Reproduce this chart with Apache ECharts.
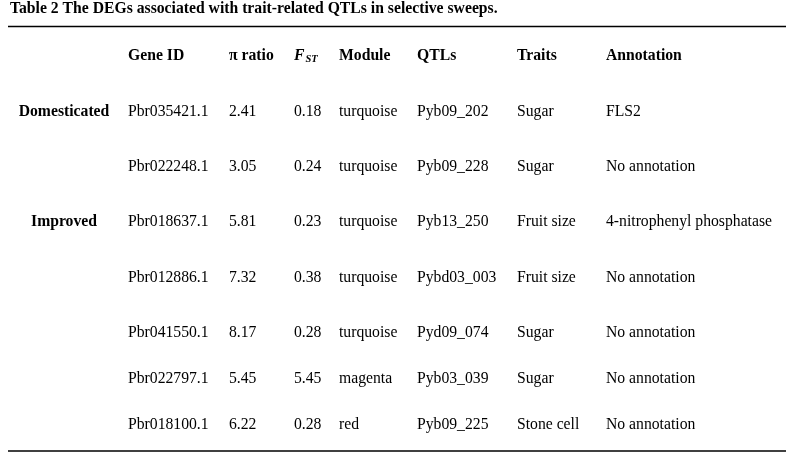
<!DOCTYPE html>
<html>
<head>
<meta charset="utf-8">
<script src="https://cdn.jsdelivr.net/npm/echarts@6/dist/echarts.min.js"></script>
<style>
  html, body { margin: 0; padding: 0; background: #fff; }
  #chart { width: 794px; height: 464px; }
</style>
</head>
<body>
<div id="chart"></div>
<script>
// table content
const title = 'Table 2 The DEGs associated with trait-related QTLs in selective sweeps.';
const headers = ['', 'Gene ID', 'π ratio', 'FST', 'Module', 'QTLs', 'Traits', 'Annotation'];
const groups = ['Domesticated', '', 'Improved', '', '', '', ''];
const geneIds = ['Pbr035421.1', 'Pbr022248.1', 'Pbr018637.1', 'Pbr012886.1', 'Pbr041550.1', 'Pbr022797.1', 'Pbr018100.1'];
const piRatio = [2.41, 3.05, 5.81, 7.32, 8.17, 5.45, 6.22];
const fst = [0.18, 0.24, 0.23, 0.38, 0.28, 5.45, 0.28];
const modules = ['turquoise', 'turquoise', 'turquoise', 'turquoise', 'turquoise', 'magenta', 'red'];
const qtls = ['Pyb09_202', 'Pyb09_228', 'Pyb13_250', 'Pybd03_003', 'Pyd09_074', 'Pyb03_039', 'Pyb09_225'];
const traits = ['Sugar', 'Sugar', 'Fruit size', 'Fruit size', 'Sugar', 'Sugar', 'Stone cell'];
const annotations = ['FLS2', 'No annotation', '4-nitrophenyl phosphatase', 'No annotation',
  'No annotation', 'No annotation', 'No annotation'];

// layout (pixel scale of the hidden axes)
const W = 794, H = 464;
const colX = [64, 128, 229, 294, 339, 417, 517, 606];
const headerY = 55.5;
const rowY = [111.5, 166.8, 222.2, 278, 333, 378.8, 425];
const FONT = '"Liberation Serif", "Times New Roman", serif';
const FS = 15.7;

const columns = [
  groups,
  geneIds,
  piRatio.map(v => v.toFixed(2)),
  fst.map(v => v.toFixed(2)),
  modules,
  qtls,
  traits,
  annotations
];

let cells = [];
headers.forEach((h, c) => {
  if (h) cells.push([colX[c], headerY, h, 'head', c]);
});
columns.forEach((col, c) => {
  col.forEach((t, r) => {
    if (t) cells.push([colX[c], rowY[r], t, c === 0 ? 'group' : 'body', c]);
  });
});

function renderCell(params, api) {
  const pt = api.coord([api.value(0), api.value(1)]);
  const text = cells[params.dataIndex][2];
  const kind = cells[params.dataIndex][3];
  const col = cells[params.dataIndex][4];
  const style = {
    text: text,
    fill: '#000',
    fontFamily: FONT,
    fontSize: FS,
    fontWeight: kind === 'body' ? 'normal' : 'bold',
    align: kind === 'group' ? 'center' : 'left',
    verticalAlign: 'middle'
  };
  if (kind === 'head' && col === 3) {
    style.text = '{f|F}{s|ST}';
    style.rich = {
      f: { fontFamily: FONT, fontSize: FS, fontStyle: 'italic', fontWeight: 'bold', fill: '#000', lineHeight: 18 },
      s: { fontFamily: FONT, fontSize: 10.5, fontStyle: 'italic', fontWeight: 'bold', fill: '#000',
        lineHeight: 10, verticalAlign: 'bottom', padding: [0, 0, 0, 1] }
    };
  }
  return { type: 'text', x: pt[0], y: pt[1], style: style };
}

const chart = echarts.init(document.getElementById('chart'), null, { renderer: 'canvas' });
chart.setOption({
  backgroundColor: '#fff',
  animation: false,
  title: {
    text: title,
    left: 10,
    top: 1,
    padding: 0,
    textStyle: { fontFamily: FONT, fontSize: FS, fontWeight: 'bold', color: '#000' }
  },
  grid: { left: 0, right: 0, top: 0, bottom: 0 },
  xAxis: { type: 'value', min: 0, max: W, show: false },
  yAxis: { type: 'value', min: 0, max: H, inverse: true, show: false },
  graphic: [
    { type: 'line', shape: { x1: 8, y1: 26.5, x2: 786, y2: 26.5 }, style: { stroke: '#000', lineWidth: 1.5 } },
    { type: 'line', shape: { x1: 8, y1: 451, x2: 786, y2: 451 }, style: { stroke: '#000', lineWidth: 1.5 } }
  ],
  series: [{
    type: 'custom',
    coordinateSystem: 'cartesian2d',
    data: cells.map(d => [d[0], d[1]]),
    renderItem: renderCell,
    silent: true
  }]
});
</script>
</body>
</html>
